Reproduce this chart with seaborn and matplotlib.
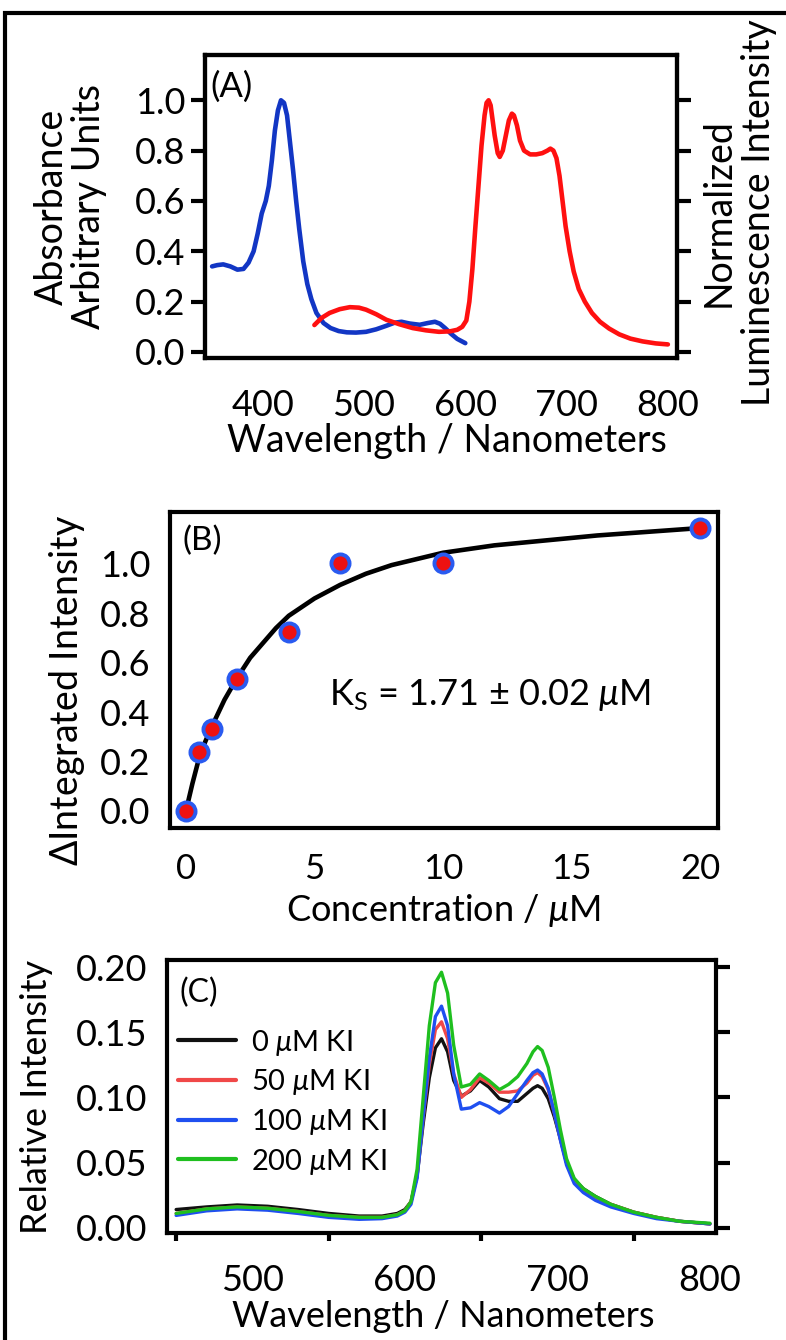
import matplotlib
matplotlib.use("Agg")
import matplotlib.pyplot as plt
import matplotlib.ticker as mticker
import seaborn as sns
import pandas as pd
from matplotlib.patches import Rectangle

# ---------------- data ----------------
# Panel A: absorbance (blue) and normalized luminescence (red)
abs_wl = [350, 355, 361, 368, 375, 381, 386, 391, 395, 399, 403, 406, 409, 412, 415,
          418, 421, 424, 427, 430, 433, 436, 440, 444, 448, 453, 460, 467, 475, 483,
          492, 502, 512, 522, 530, 537, 545, 555, 563, 570, 575, 580, 586, 592, 600]
abs_val = [0.34, 0.345, 0.348, 0.34, 0.327, 0.33, 0.355, 0.40, 0.47, 0.55, 0.60, 0.66,
           0.76, 0.88, 0.96, 1.0, 0.99, 0.94, 0.83, 0.72, 0.6, 0.49, 0.36, 0.27, 0.21,
           0.155, 0.115, 0.095, 0.083, 0.078, 0.077, 0.08, 0.09, 0.104, 0.116, 0.12,
           0.113, 0.108, 0.115, 0.12, 0.112, 0.095, 0.072, 0.052, 0.035]
lum_wl = [451, 458, 466, 476, 486, 495, 502, 512, 522, 535, 548, 561, 574, 585, 592,
          597, 601, 604, 607, 610, 613, 616, 619, 621, 623, 625, 627, 629, 632, 634,
          637, 640, 643, 646, 648, 651, 654, 658, 664, 670, 676, 681, 684, 687, 690,
          693, 696, 699, 703, 707, 712, 718, 725, 733, 742, 752, 763, 775, 788, 800]
lum_val = [0.107, 0.135, 0.155, 0.17, 0.178, 0.176, 0.168, 0.15, 0.128, 0.11, 0.095,
           0.086, 0.08, 0.082, 0.088, 0.1, 0.125, 0.2, 0.33, 0.5, 0.66, 0.82, 0.94, 0.99,
           1.0, 0.98, 0.92, 0.86, 0.79, 0.775, 0.8, 0.86, 0.92, 0.947, 0.94, 0.9, 0.84,
           0.8, 0.785, 0.785, 0.79, 0.8, 0.808, 0.8, 0.77, 0.7, 0.6, 0.5, 0.4, 0.32,
           0.25, 0.2, 0.155, 0.12, 0.093, 0.07, 0.053, 0.042, 0.034, 0.03]

# Panel B: titration points and fitted curve
conc = [0, 0.5, 1, 2, 4, 6, 10, 20]
d_int = [0.0, 0.24, 0.33, 0.535, 0.725, 1.005, 1.005, 1.145]
fit_conc = [0, 0.25, 0.5, 0.75, 1, 1.5, 2, 2.5, 3, 3.5, 4, 5, 6, 7, 8, 9, 10, 12, 14,
            16, 18, 20]
fit_val = [0.0, 0.11, 0.21, 0.28, 0.34, 0.45, 0.54, 0.62, 0.68, 0.74, 0.79, 0.86,
           0.915, 0.96, 0.995, 1.02, 1.045, 1.075, 1.095, 1.115, 1.13, 1.145]

# Panel C: emission spectra with KI
c_wl = [450, 470, 490, 510, 530, 550, 570, 585, 595, 600, 604, 608, 612, 616, 620,
        624, 628, 632, 637, 643, 649, 655, 662, 668, 674, 680, 684, 687, 690, 694,
        698, 702, 706, 711, 717, 725, 735, 750, 765, 780, 800]
ki_0 = [0.014, 0.016, 0.0175, 0.0165, 0.014, 0.011, 0.009, 0.009, 0.011, 0.014, 0.02,
        0.04, 0.08, 0.115, 0.138, 0.145, 0.135, 0.113, 0.101, 0.105, 0.113, 0.108,
        0.099, 0.097, 0.097, 0.103, 0.107, 0.109, 0.107, 0.099, 0.085, 0.068, 0.05,
        0.037, 0.03, 0.024, 0.018, 0.012, 0.008, 0.005, 0.003]
ki_50 = [0.011, 0.0145, 0.016, 0.015, 0.0125, 0.0095, 0.008, 0.008, 0.01, 0.013, 0.02,
         0.04, 0.085, 0.125, 0.152, 0.158, 0.145, 0.118, 0.1, 0.106, 0.115, 0.111,
         0.104, 0.104, 0.105, 0.111, 0.117, 0.119, 0.116, 0.106, 0.088, 0.068, 0.05,
         0.036, 0.029, 0.023, 0.018, 0.012, 0.008, 0.005, 0.003]
ki_100 = [0.0095, 0.013, 0.0145, 0.0135, 0.011, 0.008, 0.0065, 0.007, 0.009, 0.012,
          0.018, 0.038, 0.085, 0.13, 0.162, 0.17, 0.155, 0.118, 0.091, 0.092, 0.096,
          0.093, 0.088, 0.093, 0.103, 0.113, 0.119, 0.121, 0.118, 0.107, 0.088, 0.067,
          0.048, 0.034, 0.027, 0.021, 0.016, 0.011, 0.007, 0.005, 0.003]
ki_200 = [0.011, 0.0145, 0.016, 0.015, 0.0125, 0.0095, 0.008, 0.008, 0.01, 0.013, 0.02,
          0.045, 0.1, 0.155, 0.188, 0.196, 0.18, 0.14, 0.108, 0.11, 0.118, 0.113,
          0.106, 0.11, 0.116, 0.126, 0.135, 0.139, 0.136, 0.123, 0.1, 0.075, 0.053,
          0.038, 0.03, 0.024, 0.018, 0.012, 0.008, 0.005, 0.0035]
ki_labels = [r"0 $\mu$M KI", r"50 $\mu$M KI", r"100 $\mu$M KI", r"200 $\mu$M KI"]
ki_colors = ["#111111", "#f04848", "#1f4ff0", "#1fbf1f"]

# ---------------- style ----------------
sns.set_theme(style="white")
FONT = "Lato"
plt.rcParams["font.family"] = [FONT, "DejaVu Sans"]
plt.rcParams["mathtext.fontset"] = "custom"
plt.rcParams["mathtext.rm"] = FONT
plt.rcParams["mathtext.it"] = FONT + ":italic"
plt.rcParams["mathtext.bf"] = FONT + ":bold"
plt.rcParams["text.color"] = "black"
plt.rcParams["axes.labelcolor"] = "black"

SPW = 3.0   # spine width (pt)
TICKW = 3.0
TICKFS = 26


def style_axis(ax, labelsize=TICKFS, xpad=11, ypad=4):
    for s in ax.spines.values():
        s.set_visible(True)
        s.set_linewidth(SPW)
        s.set_color("black")
    ax.tick_params(axis="both", which="major", direction="out", length=10,
                   width=TICKW, colors="black", labelsize=labelsize)
    ax.tick_params(axis="x", pad=xpad)
    ax.tick_params(axis="y", pad=ypad)
    ax.grid(False)


def place_xlabel(ax, x, y):
    ax.xaxis.set_label_coords(x, y)
    ax.xaxis.label.set_va("center")
    ax.xaxis.label.set_ha("center")


def place_ylabel(ax, x, y):
    ax.yaxis.set_label_coords(x, y)
    ax.yaxis.label.set_va("center")
    ax.yaxis.label.set_ha("center")


W, H = 786, 1340
fig = plt.figure(figsize=(W / 100, H / 100), dpi=100)


def axes_px(l, r, t, b):
    return fig.add_axes([l / W, 1 - b / H, (r - l) / W, (b - t) / H])


# ---------------- Panel A ----------------
axA = axes_px(205, 677, 55, 358)
sns.lineplot(x=abs_wl, y=abs_val, ax=axA, color="#1236c4", lw=3.3, sort=False)
axA.set_xlim(343, 809)
axA.set_ylim(-0.024, 1.18)
axA.set_xticks([400, 500, 600, 700, 800])
axA.set_yticks([0.0, 0.2, 0.4, 0.6, 0.8, 1.0])
axA.yaxis.set_major_formatter(mticker.FormatStrFormatter("%.1f"))
style_axis(axA, xpad=12)
axA2 = axA.twinx()
sns.lineplot(x=lum_wl, y=lum_val, ax=axA2, color="#ff1010", lw=3.3, sort=False)
axA2.set_ylim(-0.024, 1.18)
axA2.set_yticks([0.0, 0.2, 0.4, 0.6, 0.8, 1.0])
style_axis(axA2)
axA2.tick_params(axis="y", labelright=False)
axA.set_xlabel("Wavelength / Nanometers", fontsize=27)
place_xlabel(axA, 0.513, -0.275)
axA.set_ylabel("Absorbance\nArbitrary Units", fontsize=27, linespacing=1.05)
place_ylabel(axA, -0.285, 0.5)
axA2.set_ylabel("Normalized\nLuminescence Intensity", fontsize=27, linespacing=1.15,
                rotation=90)
place_ylabel(axA2, 1.13, 0.48)
axA.text(0.012, 0.895, "(A)", transform=axA.transAxes, fontsize=25, va="center",
         ha="left")

# ---------------- Panel B ----------------
axB = axes_px(170, 718, 512, 828)
sns.lineplot(x=fit_conc, y=fit_val, ax=axB, color="black", lw=3.3, sort=False)
sns.scatterplot(x=conc, y=d_int, ax=axB, s=170, color="#ee1111", edgecolor="#2a5bf0",
                linewidth=2.8, zorder=5)
axB.set_xlim(-0.62, 20.7)
axB.set_ylim(-0.069, 1.21)
axB.set_xticks([0, 5, 10, 15, 20])
axB.set_yticks([0.0, 0.2, 0.4, 0.6, 0.8, 1.0])
axB.yaxis.set_major_formatter(mticker.FormatStrFormatter("%.1f"))
style_axis(axB, xpad=8)
axB.tick_params(axis="x", labelsize=25)
axB.set_xlabel(r"Concentration / $\mu$M", fontsize=26)
place_xlabel(axB, 0.498, -0.262)
axB.set_ylabel(r"$\Delta$Integrated Intensity", fontsize=27)
place_ylabel(axB, -0.188, 0.434)
axB.text(0.022, 0.91, "(B)", transform=axB.transAxes, fontsize=24, va="center",
         ha="left")
axB.text(0.29, 0.42, r"K$_\mathrm{S}$ = 1.71 ± 0.02 $\mu$M", transform=axB.transAxes,
         fontsize=26, va="center", ha="left")

# ---------------- Panel C ----------------
axC = axes_px(167, 716, 960, 1233)
frames = []
for lab, vals in zip(ki_labels, [ki_0, ki_50, ki_100, ki_200]):
    frames.append(pd.DataFrame({"wl": c_wl, "val": vals, "KI": lab}))
dfC = pd.concat(frames, ignore_index=True)
sns.lineplot(data=dfC, x="wl", y="val", hue="KI", hue_order=ki_labels,
             palette=dict(zip(ki_labels, ki_colors)), ax=axC, lw=2.4, sort=False)
axC.set_xlim(444, 804)
axC.set_ylim(-0.004, 0.2054)
axC.set_xticks([500, 600, 700, 800])
axC.set_xticks([450, 550, 650, 750], minor=True)
axC.set_yticks([0.0, 0.05, 0.10, 0.15, 0.20])
axC.yaxis.set_major_formatter(mticker.FormatStrFormatter("%.2f"))
style_axis(axC, xpad=12)
axC.tick_params(axis="x", which="minor", direction="out", length=6, width=TICKW,
                colors="black", bottom=True)
axC.tick_params(axis="y", right=True, which="major")
axC.set_xlabel("Wavelength / Nanometers", fontsize=26)
place_xlabel(axC, 0.503, -0.305)
axC.set_ylabel("Relative Intensity", fontsize=26)
place_ylabel(axC, -0.237, 0.498)
axC.text(0.022, 0.88, "(C)", transform=axC.transAxes, fontsize=23, va="center",
         ha="left")
leg = axC.legend(loc="upper left", bbox_to_anchor=(0.02, 0.752), frameon=False,
                 fontsize=21, handlelength=2.0, handletextpad=0.52, labelspacing=0.33,
                 borderaxespad=0, borderpad=0)
for ln in leg.get_lines():
    ln.set_linewidth(3.0)

# ---------------- figure border ----------------
fig.add_artist(Rectangle((5 / W, -0.2), 1.5, 1.2 - 13 / H,
                         transform=fig.transFigure, fill=False, lw=3.0,
                         ec="black"))

fig.savefig("out.png", dpi=100, facecolor="white")
